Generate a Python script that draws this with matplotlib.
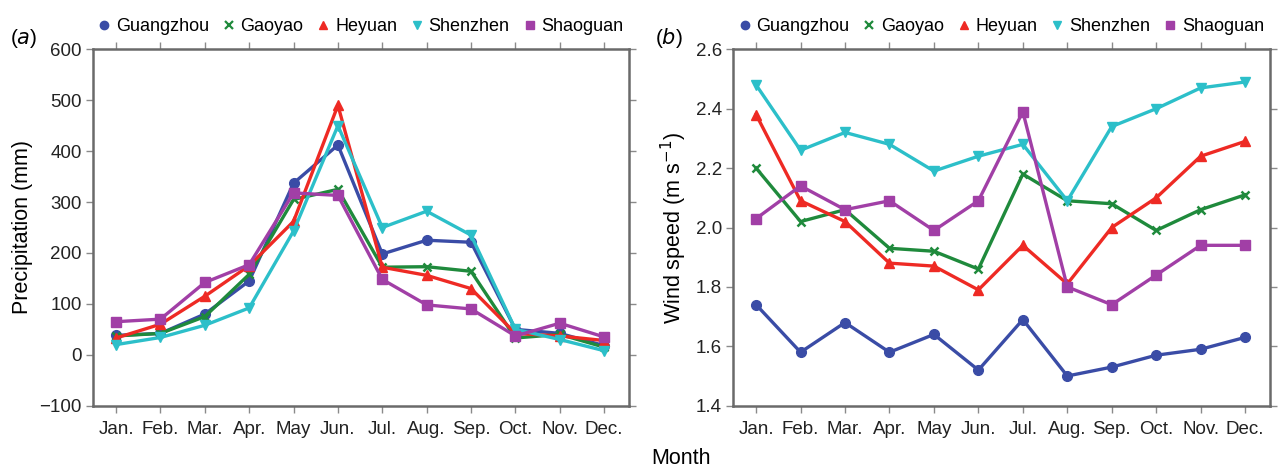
import matplotlib.pyplot as plt
from matplotlib.lines import Line2D

plt.rcParams['font.family'] = ['Liberation Sans', 'DejaVu Sans']

months = ["Jan.", "Feb.", "Mar.", "Apr.", "May", "Jun.",
          "Jul.", "Aug.", "Sep.", "Oct.", "Nov.", "Dec."]
stations = ["Guangzhou", "Gaoyao", "Heyuan", "Shenzhen", "Shaoguan"]

# Precipitation (mm)
precip_guangzhou = [38, 42, 80, 145, 337, 412, 198, 225, 221, 50, 42, 18]
precip_gaoyao = [37, 42, 75, 158, 305, 325, 172, 173, 164, 33, 40, 15]
precip_heyuan = [33, 60, 115, 175, 262, 490, 172, 156, 130, 42, 37, 28]
precip_shenzhen = [20, 34, 58, 92, 243, 450, 250, 282, 235, 50, 30, 8]
precip_shaoguan = [65, 70, 142, 177, 318, 313, 148, 98, 90, 37, 62, 35]

# Wind speed (m/s)
wind_guangzhou = [1.74, 1.58, 1.68, 1.58, 1.64, 1.52, 1.69, 1.50, 1.53, 1.57, 1.59, 1.63]
wind_gaoyao = [2.20, 2.02, 2.06, 1.93, 1.92, 1.86, 2.18, 2.09, 2.08, 1.99, 2.06, 2.11]
wind_heyuan = [2.38, 2.09, 2.02, 1.88, 1.87, 1.79, 1.94, 1.81, 2.00, 2.10, 2.24, 2.29]
wind_shenzhen = [2.48, 2.26, 2.32, 2.28, 2.19, 2.24, 2.28, 2.09, 2.34, 2.40, 2.47, 2.49]
wind_shaoguan = [2.03, 2.14, 2.06, 2.09, 1.99, 2.09, 2.39, 1.80, 1.74, 1.84, 1.94, 1.94]

colors = ["#3a4ca6", "#1f8a3c", "#ee2a24", "#2cbfc9", "#a13fa6"]
markers = ["o", "x", "^", "v", "s"]
msizes = [7, 6, 7, 7, 7]

precip = [precip_guangzhou, precip_gaoyao, precip_heyuan, precip_shenzhen, precip_shaoguan]
wind = [wind_guangzhou, wind_gaoyao, wind_heyuan, wind_shenzhen, wind_shaoguan]

x = list(range(1, 13))
spine_col = "#6a6a6a"

fig = plt.figure(figsize=(12.8, 4.71), dpi=100)
ax1 = fig.add_axes([93 / 1280, 1 - 405.7 / 471, 536 / 1280, 356.4 / 471])
ax2 = fig.add_axes([733 / 1280, 1 - 405.7 / 471, 537 / 1280, 356.4 / 471])


def style(ax):
    ax.set_xlim(0.48, 12.56)
    ax.set_xticks(x)
    ax.set_xticklabels(months)
    for s in ax.spines.values():
        s.set_color(spine_col)
        s.set_linewidth(1.8)
    ax.tick_params(direction="out", length=5, width=1.0, color="#8a8a8a",
                   labelsize=13.5, top=True, right=True, labelcolor="#222222")
    ax.tick_params(axis="x", pad=6)
    ax.tick_params(axis="y", pad=3)


for vals, c, m, ms in zip(precip, colors, markers, msizes):
    ax1.plot(x, vals, color=c, marker=m, markersize=ms, lw=2.4,
             markeredgewidth=1.8 if m == "x" else 1.0, clip_on=False)
for vals, c, m, ms in zip(wind, colors, markers, msizes):
    ax2.plot(x, vals, color=c, marker=m, markersize=ms, lw=2.4,
             markeredgewidth=1.8 if m == "x" else 1.0, clip_on=False)

style(ax1)
style(ax2)
ax1.set_ylim(-100, 600)
ax1.set_yticks(range(-100, 601, 100))
ax1.set_yticklabels(["\u2212100"] + [str(v) for v in range(0, 601, 100)])
ax2.set_ylim(1.4, 2.6)
ax2.set_yticks([1.4, 1.6, 1.8, 2.0, 2.2, 2.4, 2.6])
ax2.set_yticklabels(["1.4", "1.6", "1.8", "2.0", "2.2", "2.4", "2.6"])

ax1.set_ylabel("Precipitation (mm)", fontsize=15.5, labelpad=5)
ax2.set_ylabel("Wind speed (m s$^{-1}$)", fontsize=15.5, labelpad=5)

handles = [Line2D([], [], color=c, marker=m, linestyle="none", markersize=6,
                  markeredgewidth=1.6 if m == "x" else 1.0)
           for c, m in zip(colors, markers)]
for ax in (ax1, ax2):
    ax.legend(handles, stations, loc="lower center", bbox_to_anchor=(0.5, 1.02),
              ncol=5, frameon=False, fontsize=13, handlelength=0.6,
              handletextpad=0.35, columnspacing=0.8, borderaxespad=0.0)

fig.text(10 / 1280, 1 - 38 / 471, "($\\it{a}$)", fontsize=15, ha="left", va="center")
fig.text(655 / 1280, 1 - 38 / 471, "($\\it{b}$)", fontsize=15, ha="left", va="center")
fig.text(681 / 1280, 1 - 459 / 471, "Month", fontsize=15.5, ha="center", va="center")

fig.savefig("out.png", dpi=100)
